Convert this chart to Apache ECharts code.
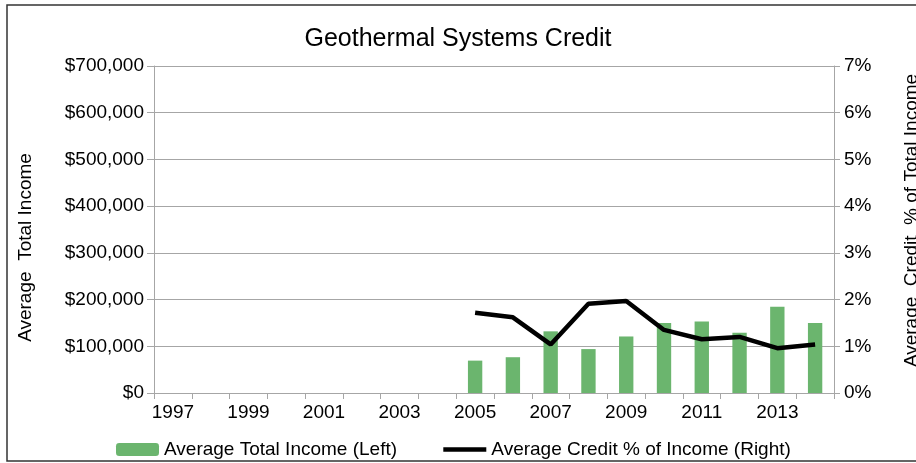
<!DOCTYPE html>
<html>
<head>
<meta charset="utf-8">
<script src="https://cdn.jsdelivr.net/npm/echarts@6/dist/echarts.min.js"></script>
<style>
  html, body { margin: 0; padding: 0; background: #fff; overflow: hidden; }
  #chart { width: 916px; height: 463px; }
</style>
</head>
<body>
<div id="chart"></div>
<script>
// 数据
const years = ["1997", "1998", "1999", "2000", "2001", "2002", "2003", "2004", "2005",
  "2006", "2007", "2008", "2009", "2010", "2011", "2012", "2013", "2014"];
const avgIncome = [null, null, null, null, null, null, null, null,
  69300, 76600, 132000, 94000, 121000, 149600, 153000, 129000, 184700, 149600];
const creditPct = [null, null, null, null, null, null, null, null,
  1.72, 1.62, 1.04, 1.91, 1.97, 1.35, 1.15, 1.20, 0.96, 1.04];
const leftTicks = [0, 700000, 100000];   // min, max, step
const rightTicks = [0, 7, 1];

const font = "Liberation Sans, Arial, sans-serif";
const gridColor = "#A6A6A6";

const money = (v) => "$" + v.toLocaleString("en-US");

const chart = echarts.init(document.getElementById("chart"));
const option = {
  animation: false,
  textStyle: { fontFamily: font, color: "#000" },
  title: {
    text: "Geothermal Systems Credit",
    left: "center",
    top: 22,
    textStyle: { fontFamily: font, fontSize: 25, fontWeight: "normal", color: "#000" },
  },
  legend: {
    left: 116,
    top: 440,
    padding: 0,
    itemWidth: 43,
    itemHeight: 13,
    itemGap: 44,
    textStyle: { fontFamily: font, fontSize: 19, color: "#000" },
    data: [
      { name: "Average Total Income (Left)" },
      {
        name: "Average Credit % of Income (Right)",
        // 隐藏图例里的圆点，只留粗线
        itemStyle: { color: "rgba(0,0,0,0)", borderColor: "rgba(0,0,0,0)", borderWidth: 0 },
        lineStyle: { color: "#000", width: 4.5 },
      },
    ],
  },
  grid: { left: 154, right: 82, top: 66, bottom: 70, containLabel: false, outerBoundsMode: "none" },
  xAxis: {
    type: "category",
    data: years,
    axisLine: { lineStyle: { color: gridColor } },
    axisTick: { show: true, interval: 0, length: 6, lineStyle: { color: gridColor } },
    axisLabel: { interval: 1, fontSize: 19, color: "#000", margin: 10, fontFamily: font },
  },
  yAxis: [
    {
      type: "value",
      min: leftTicks[0],
      max: leftTicks[1],
      interval: leftTicks[2],
      name: "Average  Total Income",
      nameLocation: "middle",
      nameRotate: 90,
      nameGap: 119,
      nameTextStyle: { fontSize: 19, color: "#000", fontFamily: font, padding: [0, 36, 0, 0] },
      axisLine: { show: true, lineStyle: { color: gridColor } },
      axisTick: { show: true, length: 7, lineStyle: { color: gridColor } },
      axisLabel: { fontSize: 19, color: "#000", margin: 10, formatter: money, fontFamily: font },
      splitLine: { lineStyle: { color: gridColor, width: 1 } },
    },
    {
      type: "value",
      position: "right",
      min: rightTicks[0],
      max: rightTicks[1],
      interval: rightTicks[2],
      name: "Average  Credit  % of Total Income",
      nameLocation: "middle",
      nameRotate: 90,
      nameGap: 68,
      nameTextStyle: { fontSize: 19, color: "#000", fontFamily: font, padding: [0, 0, 0, 18] },
      axisLine: { show: true, lineStyle: { color: gridColor } },
      axisTick: { show: true, length: 6, lineStyle: { color: gridColor } },
      axisLabel: { fontSize: 19, color: "#000", margin: 10, formatter: "{value}%", fontFamily: font },
      splitLine: { show: false },
    },
  ],
  series: [
    {
      name: "Average Total Income (Left)",
      type: "bar",
      yAxisIndex: 0,
      barWidth: "38%",
      itemStyle: { color: "#6BB56E" },
      data: avgIncome,
    },
    {
      name: "Average Credit % of Income (Right)",
      type: "line",
      yAxisIndex: 1,
      symbol: "none",
      showSymbol: false,
      connectNulls: false,
      lineStyle: { color: "#000", width: 4.5 },
      itemStyle: { color: "#000" },
      data: creditPct,
    },
  ],
  graphic: [
    {
      // 外框：只画上、左、下三条边（右边被裁掉）
      type: "polyline",
      shape: { points: [[930, 5], [7, 5], [7, 461], [930, 461]] },
      style: { fill: "none", stroke: "#333", lineWidth: 1.5 },
      silent: true,
    },
  ],
};
chart.setOption(option);
</script>
</body>
</html>
